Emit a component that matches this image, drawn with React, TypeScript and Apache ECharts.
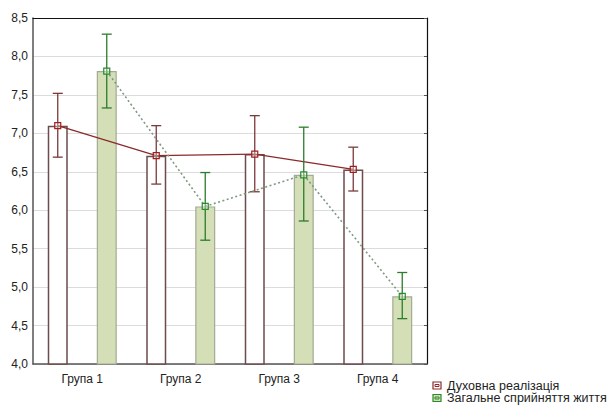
import React, { useEffect, useRef } from "react";
import * as echarts from "echarts";

const categories = ["Група 1", "Група 2", "Група 3", "Група 4"];
const seriesNames = ["Духовна реалізація", "Загальне сприйняття життя"];
const spiritMean = [7.1, 6.71, 6.73, 6.53];
const spiritLow = [6.69, 6.34, 6.24, 6.25];
const spiritHigh = [7.52, 7.1, 7.23, 6.82];
const lifeMean = [7.81, 6.05, 6.46, 4.88];
const lifeLow = [7.33, 5.61, 5.86, 4.59];
const lifeHigh = [8.29, 6.49, 7.08, 5.19];

const FONT = "'Liberation Sans', Arial, sans-serif";
const BAR_W = 20;
const OFFSET = 24.5;

function makeData(mean: number[], low: number[], high: number[]) {
  return mean.map((m, i) => [i, m, low[i], high[i], i < mean.length - 1 ? mean[i + 1] : NaN]);
}

function makeRender(offset: number, lineColor: string, errColor: string, markColor: string, dashed: boolean) {
  return (params: any, api: any) => {
    const i = api.value(0);
    const m = api.value(1);
    const lo = api.value(2);
    const hi = api.value(3);
    const nx = api.value(4);
    const p = api.coord([i, m]);
    const pl = api.coord([i, lo]);
    const ph = api.coord([i, hi]);
    const x = p[0] + offset;
    const children: any[] = [];
    if (!isNaN(nx)) {
      const q = api.coord([i + 1, nx]);
      children.push({
        type: "line",
        shape: { x1: x, y1: p[1], x2: q[0] + offset, y2: q[1] },
        style: { stroke: lineColor, lineWidth: dashed ? 1.6 : 1.3, lineDash: dashed ? [2, 2.5] : null },
      });
    }
    const cap = 5;
    children.push(
      { type: "line", shape: { x1: x, y1: pl[1], x2: x, y2: ph[1] }, style: { stroke: errColor, lineWidth: 1.3 } },
      { type: "line", shape: { x1: x - cap, y1: pl[1], x2: x + cap, y2: pl[1] }, style: { stroke: errColor, lineWidth: 1.3 } },
      { type: "line", shape: { x1: x - cap, y1: ph[1], x2: x + cap, y2: ph[1] }, style: { stroke: errColor, lineWidth: 1.3 } },
      {
        type: "rect",
        shape: { x: x - 3, y: p[1] - 3, width: 6, height: 6 },
        style: { stroke: markColor, fill: "rgba(255,255,255,0.35)", lineWidth: 1.2 },
      }
    );
    return { type: "group", children };
  };
}

export default function App() {
  const ref = useRef<HTMLDivElement>(null);
  useEffect(() => {
    if (!ref.current) return;
    const chart = echarts.init(ref.current, null, { renderer: "svg" });
    const legendItem = (cy: number, name: string, stroke: string, fill: string) => [
      { type: "rect", shape: { x: 433, y: cy - 3.5, width: 8, height: 7 }, style: { fill, stroke, lineWidth: 1.2 } },
      { type: "rect", shape: { x: 435, y: cy - 1, width: 4, height: 2 }, style: { fill: "none", stroke, lineWidth: 1 } },
      {
        type: "text",
        x: 447,
        y: cy,
        style: { text: name, font: `12.5px ${FONT}`, fill: "#222", verticalAlign: "middle", lineHeight: 12 },
      },
    ];
    chart.setOption({
      animation: false,
      backgroundColor: "#ffffff",
      textStyle: { fontFamily: FONT },
      grid: { left: 33, top: 18, right: 187, bottom: 45, containLabel: false },
      xAxis: [
        {
          type: "category",
          data: categories,
          position: "bottom",
          axisLine: { lineStyle: { color: "#555", width: 1.5 } },
          axisTick: { alignWithLabel: true, inside: true, length: 3, lineStyle: { color: "#555" } },
          axisLabel: { color: "#222", fontSize: 12, fontFamily: FONT, margin: 9 },
          splitLine: { show: false },
        },
        {
          type: "category",
          data: categories,
          position: "top",
          axisLine: { lineStyle: { color: "#111", width: 1.2 } },
          axisTick: { alignWithLabel: true, inside: true, length: 3, lineStyle: { color: "#555" } },
          axisLabel: { show: false },
        },
      ],
      yAxis: [
        {
          type: "value",
          min: 4,
          max: 8.5,
          interval: 0.5,
          position: "left",
          axisLine: { show: true, lineStyle: { color: "#555", width: 1.5 } },
          axisTick: { show: false },
          axisLabel: {
            color: "#222",
            fontSize: 12,
            fontFamily: FONT,
            margin: 5,
            formatter: (v: number) => v.toFixed(1).replace(".", ","),
          },
          splitLine: { show: true, lineStyle: { color: "#dcdcdc", width: 1 } },
        },
        {
          type: "value",
          min: 4,
          max: 8.5,
          interval: 0.5,
          position: "right",
          axisLine: { show: true, lineStyle: { color: "#111", width: 1.2 } },
          axisTick: { show: true, inside: true, length: 3, lineStyle: { color: "#555" } },
          axisLabel: { show: false },
          splitLine: { show: false },
        },
      ],
      series: [
        {
          name: seriesNames[0],
          type: "bar",
          data: spiritMean,
          barWidth: BAR_W,
          barGap: "145%",
          itemStyle: { color: "#ffffff", borderColor: "#6e4c4c", borderWidth: 1.5 },
          z: 2,
        },
        {
          name: seriesNames[1],
          type: "bar",
          data: lifeMean,
          barWidth: BAR_W,
          barGap: "145%",
          itemStyle: { color: "#d4dfb7", borderColor: "#a3ab93", borderWidth: 1.2 },
          z: 2,
        },
        {
          type: "custom",
          name: seriesNames[0] + " err",
          data: makeData(spiritMean, spiritLow, spiritHigh),
          renderItem: makeRender(-OFFSET, "#8b2a2a", "#7a3a3a", "#a01e1e", false),
          encode: { x: 0, y: 1 },
          clip: false,
          z: 5,
        },
        {
          type: "custom",
          name: seriesNames[1] + " err",
          data: makeData(lifeMean, lifeLow, lifeHigh),
          renderItem: makeRender(OFFSET, "#7f9a80", "#2a7d2a", "#2a8a2a", true),
          encode: { x: 0, y: 1 },
          clip: false,
          z: 6,
        },
      ],
      graphic: [
        ...legendItem(385.5, seriesNames[0], "#8b2a2a", "#ffffff"),
        ...legendItem(398, seriesNames[1], "#2a8a2a", "#d4dfb7"),
      ],
    });
    return () => chart.dispose();
  }, []);
  return (
    <div
      ref={ref}
      style={{ position: "absolute", left: 0, top: 0, width: 614, height: 409, overflow: "hidden" }}
    />
  );
}
